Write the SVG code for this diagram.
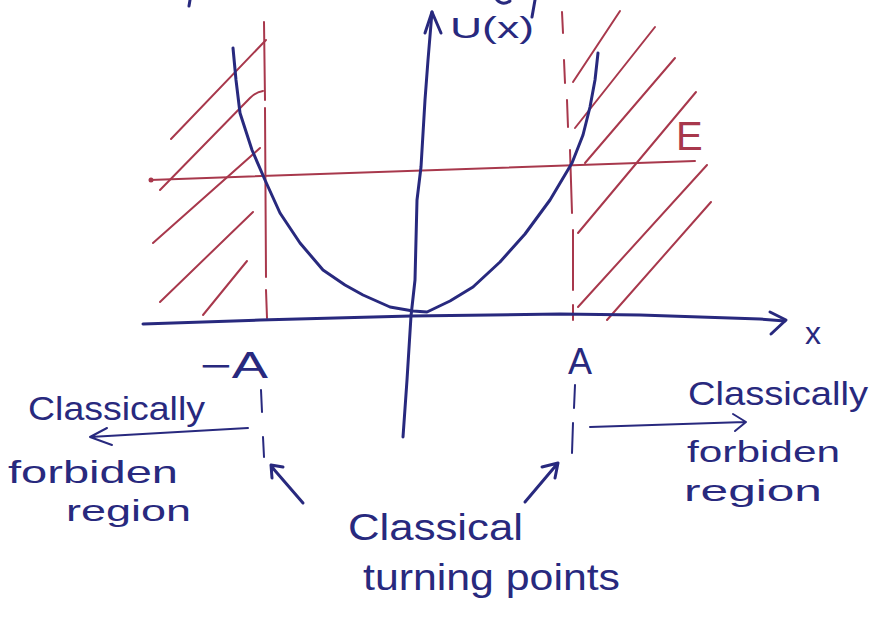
<svg xmlns="http://www.w3.org/2000/svg" width="872" height="619" viewBox="0 0 872 619">
<style>
.b{fill:none;stroke:#28297e;stroke-width:3;stroke-linecap:round;stroke-linejoin:round}
.bt{fill:none;stroke:#28297e;stroke-width:2;stroke-linecap:round;stroke-linejoin:round}
.r{fill:none;stroke:#a8384c;stroke-width:2;stroke-linecap:round;stroke-linejoin:round}
.tb{fill:#28297e;font-family:"Liberation Sans",Arial,sans-serif}
.tr{fill:#a8384c;font-family:"Liberation Sans",Arial,sans-serif}
</style>
<rect width="872" height="619" fill="#ffffff"/>
<g id="hatching-left">
<path class="r" d="M171,139 L266,40"/>
<path class="r" d="M160,190 L250,98 Q256,92 263,91"/>
<path class="r" d="M153,243 L260,148"/>
<path class="r" d="M160,302 L253,212"/>
<path class="r" d="M203,315 L247,261"/>
</g>
<g id="hatching-right">
<path class="r" d="M573,82 L620,11"/>
<path class="r" d="M575,128 L655,27"/>
<path class="r" d="M585,163 L675,58"/>
<path class="r" d="M578,233 L696,92"/>
<path class="r" d="M578,307 L707,165"/>
<path class="r" d="M607,320 L711,202"/>
</g>
<g id="turning-lines">
<path class="r" d="M264,22 L265,100 M265,108 L266,277 M266,290 L267,318"/>
<path class="r" d="M562,12 L563,33 M564,60 L565,83 M567,100 L568,127 M570,150 L572,213 M573,230 L573,290 M573,305 L573,320"/>
<path class="bt" d="M261,390 L262,412 M263,437 L264,457"/>
<path class="bt" d="M575,385 L574,408 M573,423 L572,453"/>
</g>
<g id="energy">
<path class="r" d="M150,180 L695,161"/>
<circle cx="151" cy="180" r="2.5" fill="#a8384c"/>
<text class="tr" x="676" y="150" font-size="40">E</text>
</g>
<g id="axes">
<path class="b" d="M403,437 L407,380 L411,316 L415,280 L417,200 L421,167 L425,100 L428,60 L432,12"/>
<path class="b" d="M425,33 L432,12 L441,33"/>
<path class="b" d="M143,324 L260,320 L411,316 L560,314 L640,315 L760,319 L785,321"/>
<path class="b" d="M770,312 L786,320 L771,334"/>
<text class="tb" x="450" y="38" font-size="30" textLength="84" lengthAdjust="spacingAndGlyphs">U(x)</text>
<text class="tb" x="805" y="344" font-size="32">x</text>
</g>
<g id="potential">
<path class="b" d="M233,48 L236,80 L240,113 L252,150 L265,180 L280,213 L300,243 L323,270 L345,285 L363,295 L390,307 L413,311 L427,312 L450,301 L473,287 L500,262 L525,234 L550,200 L572,163 L583,135 L590,107 L595,80 L598,53"/>
</g>
<g id="label-minusA">
<text class="tb" x="200" y="378" font-size="36" textLength="68" lengthAdjust="spacingAndGlyphs">−A</text>
</g>
<g id="label-A">
<text class="tb" x="568" y="374" font-size="36">A</text>
</g>
<g id="left-region">
<text class="tb" x="28" y="420" font-size="34" textLength="177" lengthAdjust="spacingAndGlyphs">Classically</text>
<text class="tb" x="8" y="483" font-size="32" textLength="170" lengthAdjust="spacingAndGlyphs">forbiden</text>
<text class="tb" x="66" y="521" font-size="30" textLength="125" lengthAdjust="spacingAndGlyphs">region</text>
</g>
<g id="right-region">
<text class="tb" x="688" y="405" font-size="34" textLength="180" lengthAdjust="spacingAndGlyphs">Classically</text>
<text class="tb" x="687" y="462" font-size="30" textLength="153" lengthAdjust="spacingAndGlyphs">forbiden</text>
<text class="tb" x="684" y="501" font-size="30" textLength="138" lengthAdjust="spacingAndGlyphs">region</text>
</g>
<g id="turning-points">
<text class="tb" x="348" y="540" font-size="36" textLength="175" lengthAdjust="spacingAndGlyphs">Classical</text>
<text class="tb" x="363" y="590" font-size="36" textLength="257" lengthAdjust="spacingAndGlyphs">turning points</text>
</g>
<g id="connectors">
<path class="bt" d="M248,428 L90,437 M107,428 L90,437 L112,445"/>
<path class="bt" d="M590,427 L745,422 M733,414 L746,422 L735,431"/>
<path class="b" d="M303,503 L271,466 M283,467 L271,465 L272,478"/>
<path class="b" d="M525,502 L558,463 M542,467 L558,463 L555,478"/>
</g>
<g id="cut-strokes">
<path class="b" d="M190,0 L189,6"/>
<path class="b" d="M497,0 Q503,6 510,1"/>
<path class="b" d="M535,0 L532,17"/>
</g>
</svg>
